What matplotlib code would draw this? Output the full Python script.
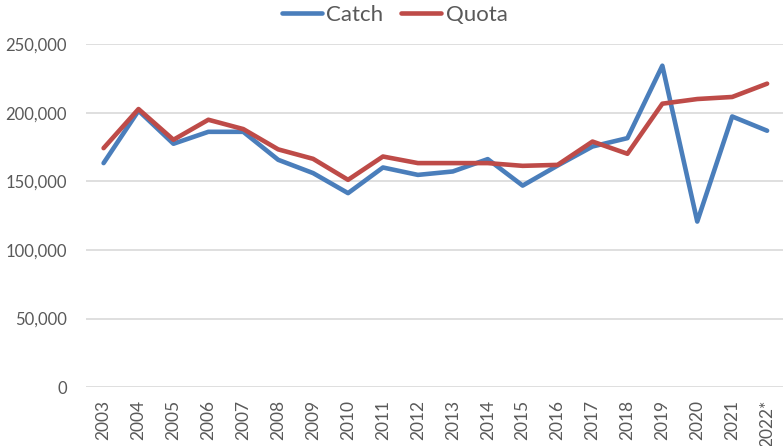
import matplotlib
matplotlib.use("Agg")
import matplotlib.pyplot as plt
from matplotlib.ticker import FuncFormatter

years = ["2003", "2004", "2005", "2006", "2007", "2008", "2009", "2010", "2011", "2012",
         "2013", "2014", "2015", "2016", "2017", "2018", "2019", "2020", "2021", "2022*"]
catch = [163300, 201500, 177400, 186100, 186100, 165700, 156000, 141400, 160100, 154700,
         157200, 166200, 146900, 161500, 175400, 181500, 234300, 120700, 197300, 186900]
quota = [174200, 202700, 180300, 194900, 188100, 173300, 166400, 151100, 168100, 163300,
         163300, 163300, 161300, 162000, 179000, 170100, 206600, 210000, 211500, 221200]

plt.rcParams["font.family"] = ["Lato", "DejaVu Sans"]
text_col = "#595959"

fig = plt.figure(figsize=(7.83, 4.46), dpi=100)
ax = fig.add_axes([0.11, 0.132, 0.892, 0.769])

x = range(len(years))
ax.plot(x, catch, color="#4A7EBB", lw=3.3, label="Catch", solid_capstyle="round")
ax.plot(x, quota, color="#BE4B48", lw=3.3, label="Quota", solid_capstyle="round")

ax.set_xlim(-0.5, len(years) - 0.5)
ax.set_ylim(0, 250000)
ax.set_yticks(range(0, 250001, 50000))
ax.yaxis.set_major_formatter(FuncFormatter(lambda v, p: f"{int(v):,}"))
ax.set_xticks(list(x))
ax.set_xticklabels(years, rotation=90)
ax.grid(axis="y", color="#D9D9D9", lw=1.2)
ax.set_axisbelow(True)
for s in ax.spines.values():
    s.set_visible(False)
ax.tick_params(length=0, colors=text_col)
ax.tick_params(axis="y", labelsize=12, pad=14)
ax.tick_params(axis="x", labelsize=12.5, pad=9)

ax.legend(loc="center", bbox_to_anchor=(0.504, 0.966), bbox_transform=fig.transFigure,
          ncol=2, frameon=False, fontsize=16, labelcolor=text_col, handlelength=1.8,
          handletextpad=0.2, columnspacing=0.8, borderaxespad=0, borderpad=0)

fig.savefig("out.png", dpi=100)
